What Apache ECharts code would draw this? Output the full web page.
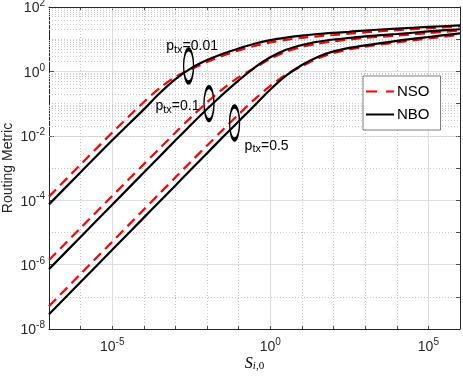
<!DOCTYPE html>
<html>
<head>
<meta charset="utf-8">
<script src="https://cdn.jsdelivr.net/npm/echarts@6/dist/echarts.min.js"></script>
<style>
html, body { margin: 0; padding: 0; background: #fff; }
#chart { width: 463px; height: 377px; }
</style>
</head>
<body>
<div id="chart"></div>
<script>
// S_{i,0} sample points (every decade, half decades around the knee)
const sValues = [1e-7, 1e-6, 1e-5, 1e-4, 3.16e-4, 1e-3, 3.16e-3, 1e-2, 3.16e-2, 0.1, 0.316,
  1, 3.16, 10, 31.6, 100, 316, 1e3, 1e4, 1e5, 1e6];

// routing metric
const nsoP001 = [1.29e-4, 1.29e-3, 1.26e-2, 0.112, 0.302, 0.676, 1.175, 1.95, 3.09, 4.47, 6.17,
  7.94, 9.55, 11.0, 12.3, 13.5, 14.8, 16.2, 19.1, 21.9, 25.1];
const nboP001 = [7.41e-5, 7.41e-4, 7.24e-3, 6.61e-2, 0.209, 0.575, 1.26, 2.24, 3.55, 5.13, 7.24,
  9.33, 11.2, 12.9, 14.5, 15.8, 17.0, 18.6, 21.4, 24.0, 26.9];
const nsoP01 = [1.38e-6, 1.38e-5, 1.35e-4, 1.32e-3, 4.07e-3, 1.26e-2, 3.80e-2, 0.110, 0.288, 0.661, 1.26,
  2.45, 4.07, 5.75, 7.24, 8.51, 9.77, 11.0, 12.9, 15.5, 18.6];
const nboP01 = [7.24e-7, 7.24e-6, 7.24e-5, 7.24e-4, 2.29e-3, 7.24e-3, 2.24e-2, 6.76e-2, 0.195, 0.525, 1.32,
  2.75, 4.68, 6.61, 8.32, 9.77, 11.0, 12.3, 14.5, 17.4, 20.4];
const nsoP05 = [5.13e-8, 5.13e-7, 5.13e-6, 5.13e-5, 1.62e-4, 5.13e-4, 1.62e-3, 5.01e-3, 1.55e-2, 4.68e-2, 0.135,
  0.355, 0.794, 1.45, 2.51, 3.72, 4.79, 5.89, 7.94, 10.5, 13.8];
const nboP05 = [2.88e-8, 2.88e-7, 2.88e-6, 2.88e-5, 9.12e-5, 2.88e-4, 9.12e-4, 2.88e-3, 9.12e-3, 2.82e-2, 8.71e-2,
  0.275, 0.741, 1.58, 2.82, 4.17, 5.37, 6.46, 8.91, 11.7, 15.1];

// annotations: p_tx value, ellipse centre, text anchor (data coords)
const pLabels = ['0.01', '0.1', '0.5'];
const ellipseS = [2.6e-3, 1.15e-2, 7.4e-2];
const ellipseMetric = [1.48, 0.1, 0.025];
const labelS = [5.1e-4, 2.34e-4, 0.154];
const labelMetric = [5.7, 0.078, 4.5e-3];

const FONT = '"Liberation Sans", Arial, Helvetica, sans-serif';
const AXIS_COLOR = '#262626';
const MAJOR_GRID = '#dedede';
const MINOR_GRID = '#c8c8c8';
const CLEAR = 'rgba(0,0,0,0)';

// minor grid positions on the metric axis: 2..9 x 10^k
const yMinor = [];
for (let k = -8; k < 2; k++) {
  for (let m = 2; m <= 9; m++) yMinor.push(m * Math.pow(10, k));
}

const powLabel = (v) => '{b|10}{s|' + Math.round(Math.log10(v)) + '}';
const powRich = {
  b: { fontSize: 14, lineHeight: 17, verticalAlign: 'bottom', fontFamily: FONT, color: AXIS_COLOR },
  s: { fontSize: 10, lineHeight: 11, verticalAlign: 'top', fontFamily: FONT, color: AXIS_COLOR }
};
const annRich = {
  p: { fontSize: 14, lineHeight: 16, verticalAlign: 'top', fontFamily: FONT, color: '#000' },
  t: { fontSize: 11, lineHeight: 12, verticalAlign: 'bottom', padding: [8, 0, 0, 0], fontFamily: FONT, color: '#000' }
};

const frameLine = { show: true, onZero: false, lineStyle: { color: AXIS_COLOR, width: 1 } };
const tickStyle = (len) => ({ show: true, inside: true, length: len, lineStyle: { color: AXIS_COLOR, width: 0.8 } });

function makeSeries(name, values, dashed, idx) {
  const s = {
    name: name,
    type: 'line',
    xAxisIndex: 0,
    yAxisIndex: 0,
    data: sValues.map((x, i) => [x, values[i]]),
    symbol: 'none',
    showSymbol: false,
    smooth: 0.3,
    z: dashed ? 3 : 4,
    lineStyle: { color: dashed ? '#ff0000' : '#000', width: 2.2, type: dashed ? [10, 6] : 'solid' },
    itemStyle: { color: dashed ? '#ff0000' : '#000' }
  };
  if (!dashed) {
    s.markPoint = {
      silent: true,
      animation: false,
      data: [
        {
          coord: [ellipseS[idx], ellipseMetric[idx]],
          symbol: 'circle',
          symbolSize: [10, 33],
          itemStyle: { color: CLEAR, borderColor: '#000', borderWidth: 2.4 },
          label: { show: false }
        },
        {
          coord: [labelS[idx], labelMetric[idx]],
          symbol: 'circle',
          symbolSize: 0,
          itemStyle: { color: CLEAR },
          label: {
            show: true, position: 'right', distance: 0,
            formatter: '{p|p}{t|tx}{p|=' + pLabels[idx] + '}',
            rich: annRich
          }
        }
      ]
    };
  }
  return s;
}

const series = [
  makeSeries('NSO', nsoP001, true, 0),
  makeSeries('NSO', nsoP01, true, 1),
  makeSeries('NSO', nsoP05, true, 2),
  makeSeries('NBO', nboP001, false, 0),
  makeSeries('NBO', nboP01, false, 1),
  makeSeries('NBO', nboP05, false, 2)
];
series[0].markLine = {
  silent: true,
  animation: false,
  z: 1,
  symbol: ['none', 'none'],
  label: { show: false },
  emphasis: { disabled: true },
  lineStyle: { color: MINOR_GRID, width: 1, type: [1, 2] },
  data: yMinor.map((v) => ({ yAxis: v }))
};

const chart = echarts.init(document.getElementById('chart'));
chart.setOption({
  animation: false,
  backgroundColor: '#fff',
  grid: { left: 49, right: 3, top: 7, bottom: 48, containLabel: false, outerBoundsMode: 'none' },
  legend: {
    data: [
      { name: 'NSO', icon: 'path://M0,0H11V2H0Z M20,0H28V2H20Z' },
      { name: 'NBO', icon: 'path://M0,0H28V2H0Z' }
    ],
    orient: 'vertical',
    left: 363,
    top: 76,
    padding: [8, 11, 8, 3],
    itemWidth: 28,
    itemHeight: 14,
    itemGap: 8,
    symbolKeepAspect: true,
    backgroundColor: '#fff',
    borderColor: AXIS_COLOR,
    borderWidth: 0.6,
    borderRadius: 0,
    textStyle: { fontSize: 15, fontFamily: FONT, color: '#000', padding: [0, 0, 0, -2] }
  },
  xAxis: [
    {
      type: 'log', logBase: 10, min: 1e-7, max: 1e6, interval: 1,
      position: 'bottom',
      name: '{s|S}{i|i}{r|,0}',
      nameLocation: 'middle',
      nameGap: 27,
      nameMoveOverlap: false,
      nameTextStyle: {
        rich: {
          s: { fontFamily: '"Liberation Serif", "DejaVu Serif", serif', fontStyle: 'italic', fontSize: 16, lineHeight: 16, verticalAlign: 'top', color: '#000' },
          i: { fontFamily: '"Liberation Serif", "DejaVu Serif", serif', fontStyle: 'italic', fontSize: 11, lineHeight: 12, verticalAlign: 'bottom', padding: [6, 0, 0, 0], color: '#000' },
          r: { fontFamily: '"Liberation Serif", "DejaVu Serif", serif', fontSize: 11, lineHeight: 12, verticalAlign: 'bottom', padding: [6, 0, 0, 0], color: '#000' }
        }
      },
      axisLine: frameLine,
      axisTick: tickStyle(3),
      axisLabel: {
        margin: 8,
        formatter: (v) => (Math.round(Math.log10(v)) % 5 === 0 ? powLabel(v) : ''),
        rich: powRich
      },
      splitLine: {
        show: true,
        lineStyle: { color: [MINOR_GRID, MINOR_GRID, CLEAR, MINOR_GRID, MINOR_GRID], width: 1, type: [1, 2] }
      }
    },
    {
      type: 'log', logBase: 10, min: 1e-7, max: 1e6, interval: 1,
      position: 'top',
      axisLine: frameLine,
      axisTick: tickStyle(3),
      axisLabel: { show: false },
      splitLine: {
        show: true,
        lineStyle: { color: [CLEAR, CLEAR, MAJOR_GRID, CLEAR, CLEAR], width: 1 }
      }
    }
  ],
  yAxis: [
    {
      type: 'log', logBase: 10, min: 1e-8, max: 1e2, interval: 2,
      position: 'left',
      name: 'Routing Metric',
      nameLocation: 'middle',
      nameGap: 34,
      nameMoveOverlap: false,
      nameTextStyle: { fontSize: 14, fontFamily: FONT, color: AXIS_COLOR },
      axisLine: frameLine,
      axisTick: tickStyle(5),
      axisLabel: { margin: 4, formatter: powLabel, rich: powRich },
      splitLine: { show: true, lineStyle: { color: MAJOR_GRID, width: 1 } }
    },
    {
      type: 'log', logBase: 10, min: 1e-8, max: 1e2, interval: 1,
      position: 'right',
      axisLine: frameLine,
      axisTick: tickStyle(4),
      axisLabel: { show: false },
      splitLine: {
        show: true,
        lineStyle: { color: [CLEAR, MINOR_GRID], width: 1, type: [1, 2] }
      }
    }
  ],
  series: series
});
</script>
</body>
</html>
